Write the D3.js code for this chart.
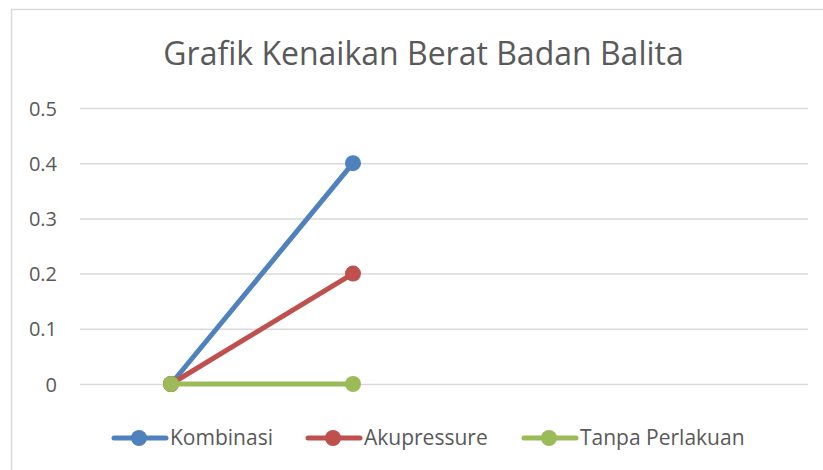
<!DOCTYPE html>
<html>
<head>
<meta charset="utf-8">
<script src="https://cdn.jsdelivr.net/npm/d3@7"></script>
<style>
  body { margin: 0; background: #fff; }
  svg { display: block; }
  text { font-family: "Open Sans", Lato, sans-serif; fill: #595959; }
</style>
</head>
<body>
<svg></svg>
<script>
// categories on the x axis (no labels shown in the original)
const categories = ["c1", "c2", "c3", "c4"];
const xTickLabels = ["", "", "", ""];
const yTicks = [0, 0.1, 0.2, 0.3, 0.4, 0.5];

const seriesNames = ["Kombinasi", "Akupressure", "Tanpa Perlakuan"];
const kombinasi = [0, 0.4];
const akupressure = [0, 0.2];
const tanpaPerlakuan = [0, 0];
const colors = ["#4F81BD", "#C0504D", "#9BBB59"];

const width = 823;
const height = 470;
const plot = { left: 80, right: 808, top: 108, bottom: 384 };

const svg = d3.select("svg")
    .attr("width", width)
    .attr("height", height);

// chart border
svg.append("rect")
    .attr("x", 11.5).attr("y", 9.5)
    .attr("width", 830).attr("height", 480)
    .attr("fill", "#fff")
    .attr("stroke", "#d9d9d9")
    .attr("stroke-width", 1.5);

// title
svg.append("text")
    .attr("x", 423.5).attr("y", 65)
    .attr("text-anchor", "middle")
    .style("font-size", "32px")
    .text("Grafik Kenaikan Berat Badan Balita");

const xScale = d3.scaleBand()
    .domain(categories)
    .range([plot.left, plot.right]);

const yScale = d3.scaleLinear()
    .domain([0, 0.5])
    .range([plot.bottom, plot.top]);

// y axis with gridlines
const yAxis = d3.axisLeft(yScale)
    .tickValues(yTicks)
    .tickFormat(d => d === 0 ? "0" : d3.format(".1f")(d))
    .tickSize(-(plot.right - plot.left))
    .tickPadding(23);

svg.append("g")
    .attr("transform", "translate(" + plot.left + ",0)")
    .call(yAxis)
    .call(g => g.select(".domain").remove())
    .call(g => g.selectAll("line").attr("stroke", "#d9d9d9").attr("stroke-width", 1.5))
    .call(g => g.selectAll("text").style("font-size", "20px").attr("fill", "#595959").attr("dy", "0.35em"));

// x axis (labels empty)
const xAxis = d3.axisBottom(xScale)
    .tickFormat((d, i) => xTickLabels[i])
    .tickSize(0);
svg.append("g")
    .attr("transform", "translate(0," + plot.bottom + ")")
    .call(xAxis)
    .call(g => g.select(".domain").remove());

const seriesData = [kombinasi, akupressure, tanpaPerlakuan];

const line = d3.line()
    .x((d, i) => xScale(categories[i]) + xScale.bandwidth() / 2)
    .y(d => yScale(d));

seriesData.forEach((values, s) => {
    svg.append("path")
        .datum(values)
        .attr("fill", "none")
        .attr("stroke", colors[s])
        .attr("stroke-width", 5)
        .attr("stroke-linejoin", "round")
        .attr("d", line);

    svg.selectAll(".pt" + s)
        .data(values)
        .enter()
        .append("circle")
        .attr("class", "pt" + s)
        .attr("cx", (d, i) => xScale(categories[i]) + xScale.bandwidth() / 2)
        .attr("cy", d => yScale(d))
        .attr("r", 8)
        .attr("fill", colors[s]);
});

// legend
const legendX = [112, 306, 522];
const legend = svg.append("g").attr("transform", "translate(0,438)");
seriesNames.forEach((name, s) => {
    const g = legend.append("g").attr("transform", "translate(" + legendX[s] + ",0)");
    g.append("line")
        .attr("x1", 2).attr("x2", 54)
        .attr("stroke", colors[s])
        .attr("stroke-width", 5)
        .attr("stroke-linecap", "round");
    g.append("circle")
        .attr("cx", 27).attr("r", 8)
        .attr("fill", colors[s]);
    g.append("text")
        .attr("x", 58).attr("dy", "0.35em")
        .style("font-size", "21px")
        .text(name);
});
</script>
</body>
</html>
